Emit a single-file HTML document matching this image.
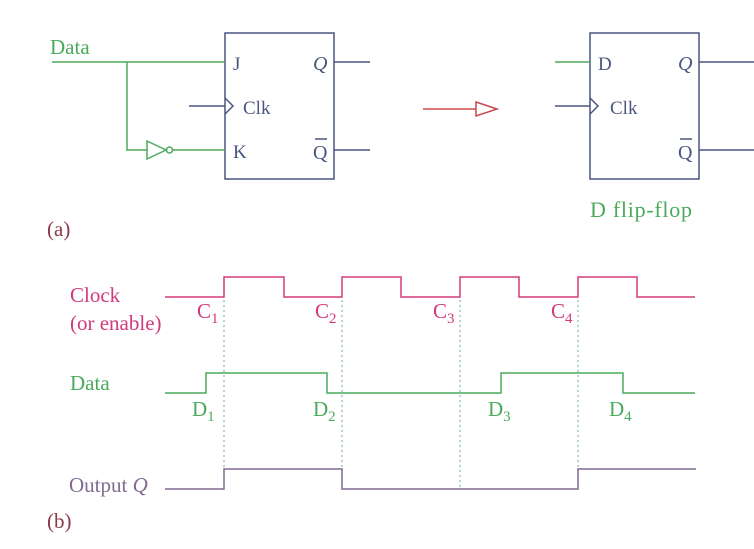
<!DOCTYPE html>
<html><head><meta charset="utf-8"><style>
html,body{margin:0;padding:0;background:#fff;width:754px;height:549px;overflow:hidden}
svg{display:block}
text{font-family:"Liberation Serif",serif}
</style></head><body>
<svg width="754" height="549" viewBox="0 0 754 549" xmlns="http://www.w3.org/2000/svg">
<g fill="none" stroke-width="1.5">
<rect x="225" y="33" width="109" height="146" stroke="#4a5580"/>
<path d="M52 62H225M127 62V150H147" stroke="#4caa5c"/>
<path d="M147 141L166 150L147 159Z" stroke="#4caa5c"/>
<circle cx="169.5" cy="150" r="3" stroke="#4caa5c"/>
<path d="M173 150H225" stroke="#4caa5c"/>
<path d="M189 106H225M225 98L233 106L225 114" stroke="#4a5580"/>
<path d="M334 62H370M334 150H370" stroke="#4a5580"/>
<path d="M423 109H476M476 102L497 109L476 116Z" stroke="#c84848"/>
<rect x="590" y="33" width="109" height="146" stroke="#4a5580"/>
<path d="M555 62H590" stroke="#4caa5c"/>
<path d="M555 106H590M590 98L598 106L590 114" stroke="#4a5580"/>
<path d="M699 62H754M699 150H754" stroke="#4a5580"/>
<path d="M224 300V490M342 300V490M460 300V490M578 300V490" stroke="#6aa8a8" stroke-width="1" stroke-dasharray="2,3"/>
<path d="M165 297H224V277H284V297H342V277H401V297H460V277H519V297H578V277H637V297H695" stroke="#d23a7c"/>
<path d="M165 393H206V373H327V393H501V373H623V393H695" stroke="#4caa5c"/>
<path d="M165 489H224V469H342V489H578V469H696" stroke="#806a90"/>
</g>
<g font-size="21">
<text x="50" y="54" fill="#4caa5c">Data</text>
<text x="233" y="70" fill="#4a5580" font-size="19">J</text>
<text x="243" y="114" fill="#4a5580" font-size="19">Clk</text>
<text x="233" y="158" fill="#4a5580" font-size="19">K</text>
<text x="313" y="70" fill="#4a5580" font-style="italic" font-size="20">Q</text>
<text x="313" y="159" fill="#4a5580" font-size="20">Q</text>
<path d="M315 139H327" stroke="#4a5580" stroke-width="1.5"/>
<text x="598" y="70" fill="#4a5580" font-size="19">D</text>
<text x="610" y="114" fill="#4a5580" font-size="19">Clk</text>
<text x="678" y="70" fill="#4a5580" font-style="italic" font-size="20">Q</text>
<text x="678" y="159" fill="#4a5580" font-size="20">Q</text>
<path d="M680 139H692" stroke="#4a5580" stroke-width="1.5"/>
<text x="590" y="217" fill="#4caa5c" font-size="22" textLength="102">D flip-flop</text>
<text x="47" y="236" fill="#8a3a4a">(a)</text>
<text x="70" y="302" fill="#d23a7c">Clock</text>
<text x="70" y="330" fill="#d23a7c">(or enable)</text>
<g fill="#d23a7c"><text x="197" y="318">C<tspan font-size="15" dy="5">1</tspan></text>
<text x="315" y="318">C<tspan font-size="15" dy="5">2</tspan></text>
<text x="433" y="318">C<tspan font-size="15" dy="5">3</tspan></text>
<text x="551" y="318">C<tspan font-size="15" dy="5">4</tspan></text></g>
<text x="70" y="390" fill="#4caa5c">Data</text>
<g fill="#4caa5c"><text x="192" y="416">D<tspan font-size="15" dy="5">1</tspan></text>
<text x="313" y="416">D<tspan font-size="15" dy="5">2</tspan></text>
<text x="488" y="416">D<tspan font-size="15" dy="5">3</tspan></text>
<text x="609" y="416">D<tspan font-size="15" dy="5">4</tspan></text></g>
<text x="69" y="492" fill="#806a90">Output <tspan font-style="italic">Q</tspan></text>
<text x="47" y="528" fill="#8a3a4a">(b)</text>
</g>
</svg>
</body></html>
